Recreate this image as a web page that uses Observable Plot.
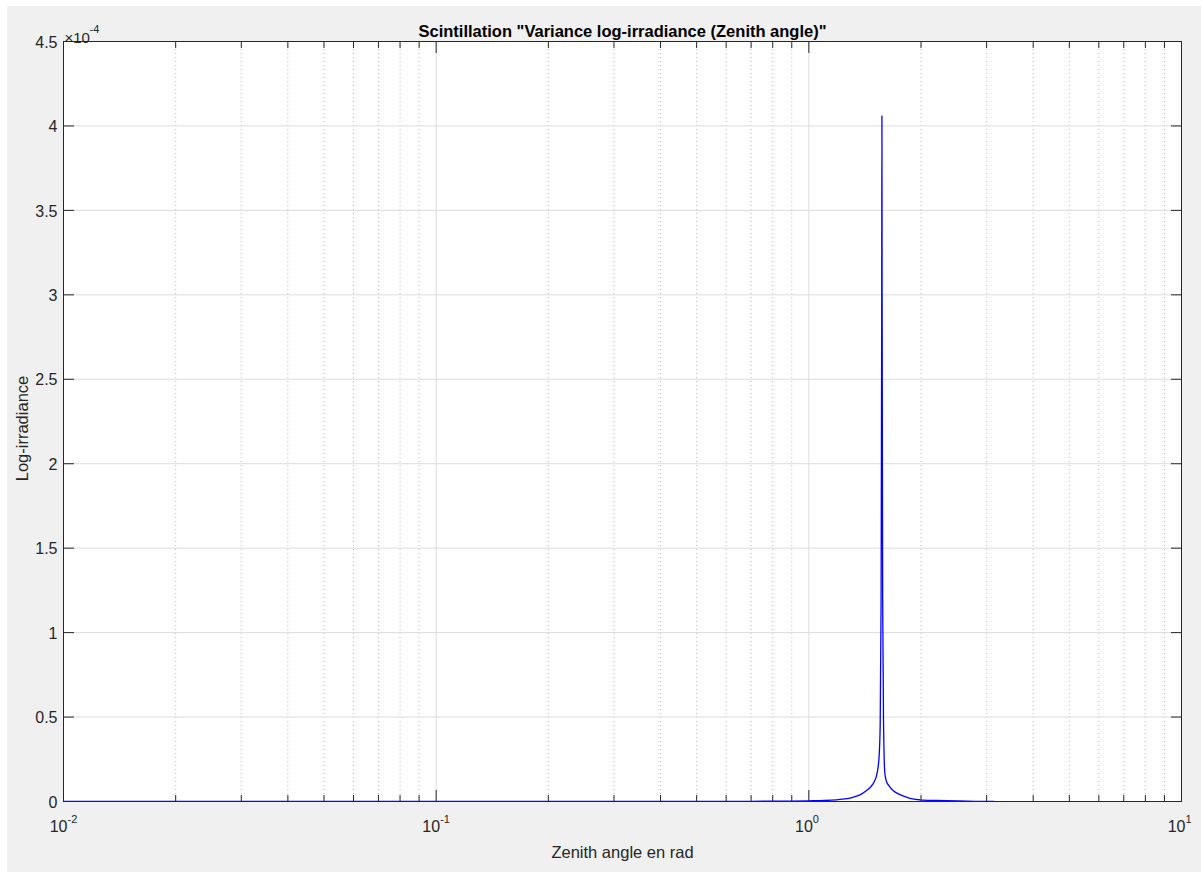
<!DOCTYPE html>
<html>
<head>
<meta charset="utf-8">
<script src="https://cdn.jsdelivr.net/npm/d3@7"></script>
<script src="https://cdn.jsdelivr.net/npm/@observablehq/plot@0.6"></script>
<style>
  html, body { margin: 0; padding: 0; background: #ffffff; }
  #bg { position: absolute; left: 7px; top: 6px; width: 1194px; height: 866px; background: #f0f0f0; }
  #chart { position: absolute; left: 0; top: 0; }
</style>
</head>
<body>
<div id="bg"></div>
<div id="chart"></div>
<script>
// ---- data ----
const zenithRad = [0.01, 0.03, 0.1, 0.3, 0.5, 0.7, 0.9, 1.0, 1.1, 1.187, 1.25, 1.312, 1.38, 1.428, 1.47, 1.50, 1.525, 1.543, 1.554, 1.563, 1.569, 1.5708, 1.5726, 1.578, 1.587, 1.599, 1.615, 1.645, 1.683, 1.75, 1.832, 1.9, 1.985, 2.2, 2.5, 2.8, 3.1416];
const logIrradiance = [0.0002e-4, 0.0002e-4, 0.0003e-4, 0.0005e-4, 0.0008e-4, 0.0013e-4, 0.0025e-4, 0.004e-4, 0.006e-4, 0.010e-4, 0.015e-4, 0.025e-4, 0.042e-4, 0.065e-4, 0.09e-4, 0.12e-4, 0.17e-4, 0.26e-4, 0.45e-4, 1.2e-4, 3.0e-4, 4.06e-4, 3.0e-4, 1.2e-4, 0.45e-4, 0.17e-4, 0.12e-4, 0.09e-4, 0.065e-4, 0.042e-4, 0.025e-4, 0.015e-4, 0.010e-4, 0.006e-4, 0.003e-4, 0.001e-4, 0.0003e-4];

const xMajorTicks = [0.01, 0.1, 1, 10];
const xTickExponents = ["-2", "-1", "0", "1"];
const xMinorTicks = [0.02,0.03,0.04,0.05,0.06,0.07,0.08,0.09, 0.2,0.3,0.4,0.5,0.6,0.7,0.8,0.9, 2,3,4,5,6,7,8,9];
const yTicks = [0, 0.5e-4, 1e-4, 1.5e-4, 2e-4, 2.5e-4, 3e-4, 3.5e-4, 4e-4, 4.5e-4];
const yTickLabels = ["0", "0.5", "1", "1.5", "2", "2.5", "3", "3.5", "4", "4.5"];

const titleText = 'Scintillation "Variance log-irradiance (Zenith angle)"';
const xLabel = "Zenith angle en rad";
const yLabel = "Log-irradiance";

const data = zenithRad.map((x, i) => ({x, y: logIrradiance[i]}));
const xt = xMajorTicks.map((v, i) => ({v, e: xTickExponents[i]}));
const yt = yTicks.map((v, i) => ({v, t: yTickLabels[i]}));

const axisColor = "#262626";
const font = "'Liberation Sans', Arial, Helvetica, sans-serif";

const chart = Plot.plot({
  width: 1201,
  height: 872,
  marginLeft: 63,
  marginRight: 20,
  marginTop: 41,
  marginBottom: 71,
  style: {background: "transparent", fontFamily: font, color: axisColor},
  x: {type: "log", domain: [0.01, 10], axis: null},
  y: {domain: [0, 4.5e-4], axis: null},
  marks: [
    Plot.frame({fill: "white", stroke: null}),
    // grids
    Plot.ruleX(xMinorTicks, {stroke: "#b8b8b8", strokeDasharray: "1,3", strokeWidth: 1}),
    Plot.ruleX(xMajorTicks, {stroke: "#dcdcdc", strokeWidth: 1}),
    Plot.ruleY(yTicks, {stroke: "#dcdcdc", strokeWidth: 1}),
    // inward ticks
    Plot.axisX(xMajorTicks, {anchor: "bottom", tickSize: -11, tickFormat: () => "", label: null, stroke: axisColor}),
    Plot.axisX(xMajorTicks, {anchor: "top", tickSize: -11, tickFormat: () => "", label: null, stroke: axisColor}),
    Plot.axisX(xMinorTicks, {anchor: "bottom", tickSize: -6, tickFormat: () => "", label: null, stroke: axisColor}),
    Plot.axisX(xMinorTicks, {anchor: "top", tickSize: -6, tickFormat: () => "", label: null, stroke: axisColor}),
    Plot.axisY(yTicks, {anchor: "left", tickSize: -11, tickFormat: () => "", label: null, stroke: axisColor}),
    Plot.axisY(yTicks, {anchor: "right", tickSize: -11, tickFormat: () => "", label: null, stroke: axisColor}),
    // data line
    Plot.line(data, {x: "x", y: "y", stroke: "#0000ff", strokeWidth: 1.3, curve: "monotone-x"}),
    Plot.frame({stroke: axisColor, strokeWidth: 1}),
    // x tick labels: 10 with superscript exponent
    Plot.text(xt, {x: "v", frameAnchor: "bottom", text: () => "10", textAnchor: "end", dx: 4, dy: 30, fontSize: 16, fill: axisColor}),
    Plot.text(xt, {x: "v", frameAnchor: "bottom", text: "e", textAnchor: "start", dx: 4, dy: 21, fontSize: 11, fill: axisColor}),
    // y tick labels
    Plot.text(yt, {y: "v", frameAnchor: "left", text: "t", textAnchor: "end", dx: -6, dy: 1, fontSize: 16, fill: axisColor}),
    // exponent multiplier
    Plot.text(["\u00d710"], {frameAnchor: "top-left", textAnchor: "start", dx: 1, dy: -9, fontSize: 15, fill: axisColor}),
    Plot.text(["-4"], {frameAnchor: "top-left", textAnchor: "start", dx: 26, dy: -16, fontSize: 11, fill: axisColor}),
    // title and labels
    Plot.text([titleText], {frameAnchor: "top", dy: -16, fontSize: 16.5, fontWeight: "bold", fill: "#000000"}),
    Plot.text([xLabel], {frameAnchor: "bottom", dy: 56, fontSize: 16.5, fill: axisColor}),
    Plot.text([yLabel], {frameAnchor: "left", textAnchor: "middle", dx: -41, dy: 7, rotate: -90, fontSize: 16.5, fill: axisColor})
  ]
});
document.getElementById("chart").appendChild(chart);
</script>
</body>
</html>
